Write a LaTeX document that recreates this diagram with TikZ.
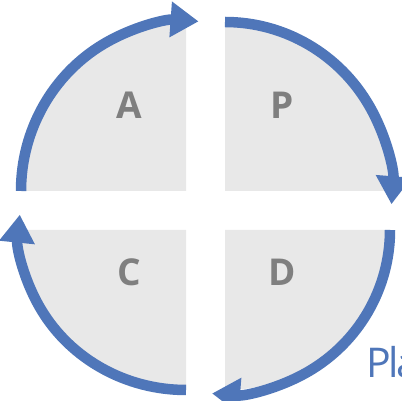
\documentclass[tikz,border=0pt]{standalone}
\usepackage{fontspec}
\setmainfont{Open Sans}
\newfontfamily\planfont[LetterSpace=-6]{Open Sans}
\usetikzlibrary{arrows.meta}
\definecolor{cycblue}{HTML}{4F76B9}
\definecolor{quadgray}{HTML}{E8E8E8}
\definecolor{lettergray}{HTML}{7F7F7F}
\begin{document}
\begin{tikzpicture}[x=1pt,y=1pt,
    quad/.style={fill=quadgray},
    arcarrow/.style={draw=cycblue,line width=10.5pt,-{Triangle[length=28pt,width=34pt]}},
    letter/.style={text=lettergray,font=\fontsize{37}{37}\selectfont\bfseries}]
  \useasboundingbox (0,0) rectangle (402,401);
  \coordinate (cA) at (186,210);
  \coordinate (cP) at (225,210);
  \coordinate (cD) at (225,171);
  \coordinate (cC) at (186,171);
  % quarter disks
  \fill[quad] (cA) -- ++(-165,0) arc[start angle=180,end angle=90,x radius=165,y radius=169] -- cycle;
  \fill[quad] (cP) -- ++(0,169) arc[start angle=90,end angle=0,x radius=165,y radius=169] -- cycle;
  \fill[quad] (cD) -- ++(165,0) arc[start angle=0,end angle=-90,x radius=165,y radius=160] -- cycle;
  \fill[quad] (cC) -- ++(0,-160) arc[start angle=270,end angle=180,x radius=165,y radius=160] -- cycle;
  % cycle arrows
  \begin{scope}[arcarrow]
    \draw (cA) ++(-165,0) arc[start angle=180,end angle=86,x radius=166,y radius=170];
    \draw (cP) ++(0,169) arc[start angle=90,end angle=-4.5,x radius=167,y radius=169];
    \draw (cD) ++(165,0) arc[start angle=0,end angle=-94.5,x radius=165,y radius=164];
    \draw (cC) ++(0,-160) arc[start angle=270,end angle=174.5,x radius=167,y radius=160];
  \end{scope}
  \node[letter] (A) at (129,296) {A};
  \node[letter] (P) at (282,296) {P};
  \node[letter] (C) at (129,129) {C};
  \node[letter] (D) at (282,129) {D};
  \node[anchor=base west,inner sep=0pt,text=cycblue,font=\planfont\fontsize{41}{41}\selectfont] (plan) at (366,23) {Pla};
\end{tikzpicture}
\end{document}
